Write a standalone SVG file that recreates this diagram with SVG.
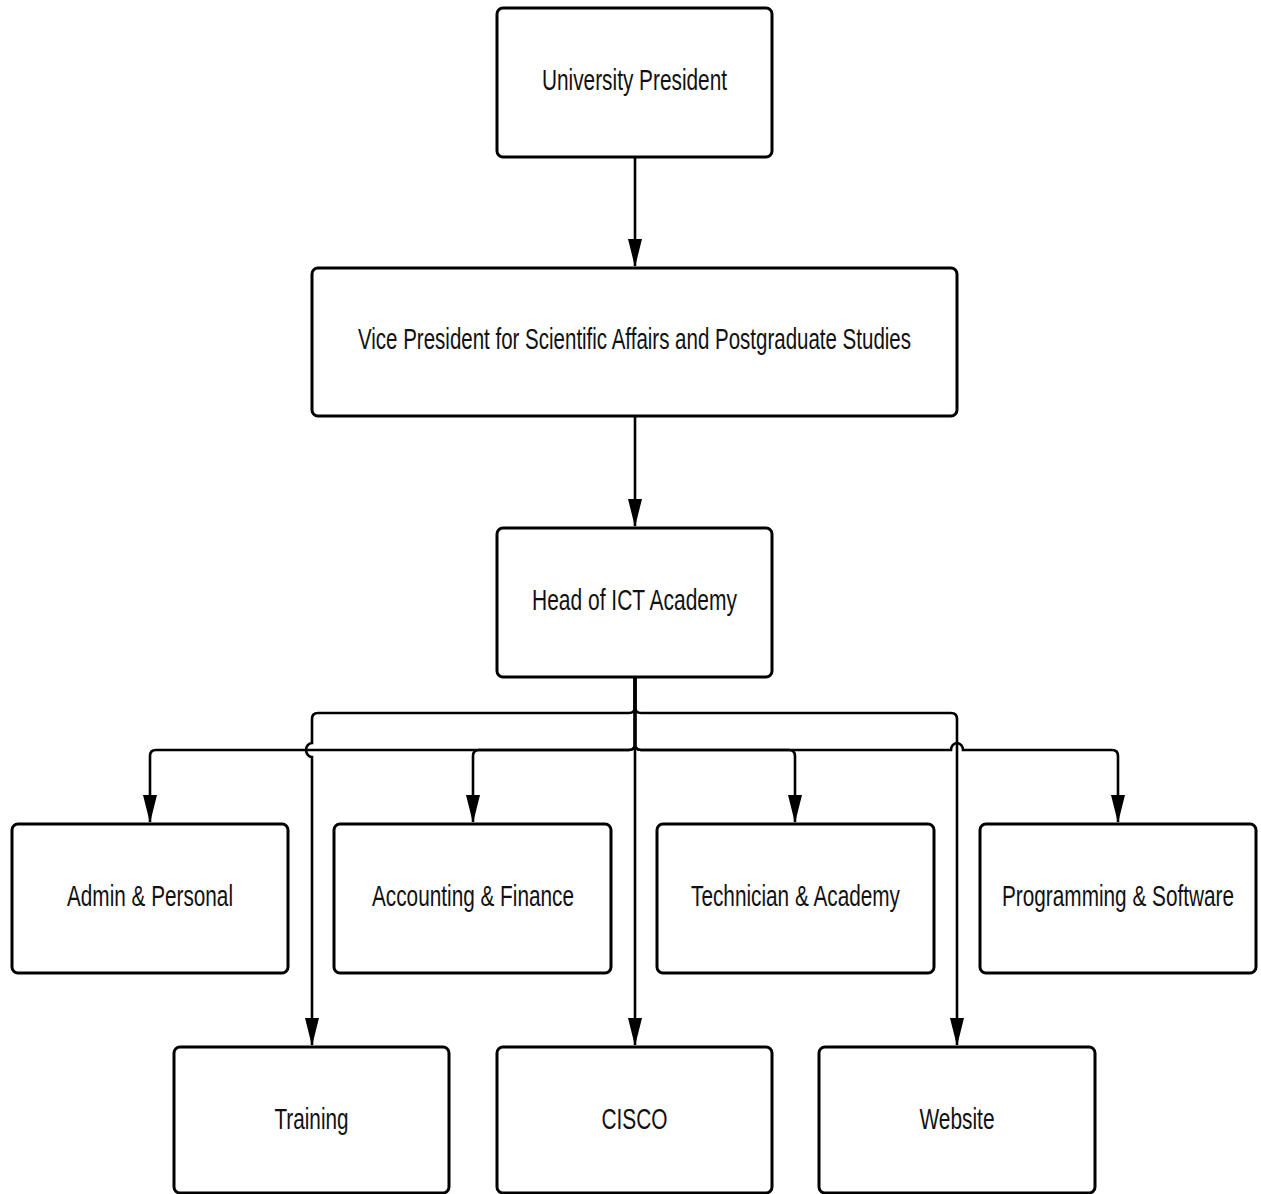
<svg xmlns="http://www.w3.org/2000/svg" width="1261" height="1194" viewBox="0 0 1261 1194">
<style>
.box{fill:#fff;stroke:#000;stroke-width:3}
.lbl{font-family:"Liberation Sans",Arial,sans-serif;font-size:29px;fill:#111;text-anchor:middle}
.con{fill:none;stroke:#000;stroke-width:2.6}
</style>
<defs>
<marker id="arr" markerUnits="userSpaceOnUse" markerWidth="16" markerHeight="28" refX="14" refY="7" orient="auto">
<path d="M0,0 L14,7 L0,14 Z" fill="#000"/>
</marker>
<marker id="arrd" markerUnits="userSpaceOnUse" viewBox="0 0 28 14" markerWidth="28" markerHeight="14" refX="27" refY="7" orient="auto">
<path d="M0,0 L28,7 L0,14 Z" fill="#000"/>
</marker>
</defs>
<rect width="1261" height="1194" fill="#fff"/>
<g id="connectors">
<path class="con" d="M635,157 V266" marker-end="url(#arrd)"/>
<path class="con" d="M635,416 V526" marker-end="url(#arrd)"/>
<path class="con" d="M635,677 V1045" marker-end="url(#arrd)"/>
<path class="con" d="M635,677 V707 Q635,713 629,713 H318 Q312,713 312,719 V743 A6,7 0 0 0 312,757 V1045" marker-end="url(#arrd)"/>
<path class="con" d="M635,677 V707 Q635,713 641,713 H951 Q957,713 957,719 V1045" marker-end="url(#arrd)"/>
<path class="con" d="M635,677 V744 Q635,750 629,750 H156 Q150,750 150,756 V822" marker-end="url(#arrd)"/>
<path class="con" d="M635,677 V744 Q635,750 629,750 H479 Q473,750 473,756 V822" marker-end="url(#arrd)"/>
<path class="con" d="M635,677 V744 Q635,750 641,750 H789 Q795,750 795,756 V822" marker-end="url(#arrd)"/>
<path class="con" d="M635,677 V744 Q635,750 641,750 H951 A6,7 0 0 1 963,750 H1112 Q1118,750 1118,756 V822" marker-end="url(#arrd)"/>
</g>
<g id="n-president"><rect class="box" x="497" y="8" width="275" height="149" rx="6"/><text class="lbl" x="634.5" y="90" textLength="185" lengthAdjust="spacingAndGlyphs">University President</text></g>
<g id="n-vp"><rect class="box" x="312" y="268" width="645" height="148" rx="6"/><text class="lbl" x="634.5" y="349" textLength="553" lengthAdjust="spacingAndGlyphs">Vice President for Scientific Affairs and Postgraduate Studies</text></g>
<g id="n-head"><rect class="box" x="497" y="528" width="275" height="149" rx="6"/><text class="lbl" x="634.5" y="610" textLength="205" lengthAdjust="spacingAndGlyphs">Head of ICT Academy</text></g>
<g id="n-admin"><rect class="box" x="12" y="824" width="276" height="149" rx="6"/><text class="lbl" x="150" y="906" textLength="166" lengthAdjust="spacingAndGlyphs">Admin &amp; Personal</text></g>
<g id="n-accounting"><rect class="box" x="334" y="824" width="277" height="149" rx="6"/><text class="lbl" x="473" y="906" textLength="202" lengthAdjust="spacingAndGlyphs">Accounting &amp; Finance</text></g>
<g id="n-technician"><rect class="box" x="657" y="824" width="277" height="149" rx="6"/><text class="lbl" x="795.5" y="906" textLength="209" lengthAdjust="spacingAndGlyphs">Technician &amp; Academy</text></g>
<g id="n-programming"><rect class="box" x="980" y="824" width="276" height="149" rx="6"/><text class="lbl" x="1118" y="906" textLength="232" lengthAdjust="spacingAndGlyphs">Programming &amp; Software</text></g>
<g id="n-training"><rect class="box" x="174" y="1047" width="275" height="146" rx="6"/><text class="lbl" x="311.5" y="1129" textLength="74" lengthAdjust="spacingAndGlyphs">Training</text></g>
<g id="n-cisco"><rect class="box" x="497" y="1047" width="275" height="146" rx="6"/><text class="lbl" x="634.5" y="1129" textLength="66" lengthAdjust="spacingAndGlyphs">CISCO</text></g>
<g id="n-website"><rect class="box" x="819" y="1047" width="276" height="146" rx="6"/><text class="lbl" x="957" y="1129" textLength="75" lengthAdjust="spacingAndGlyphs">Website</text></g>
</svg>
